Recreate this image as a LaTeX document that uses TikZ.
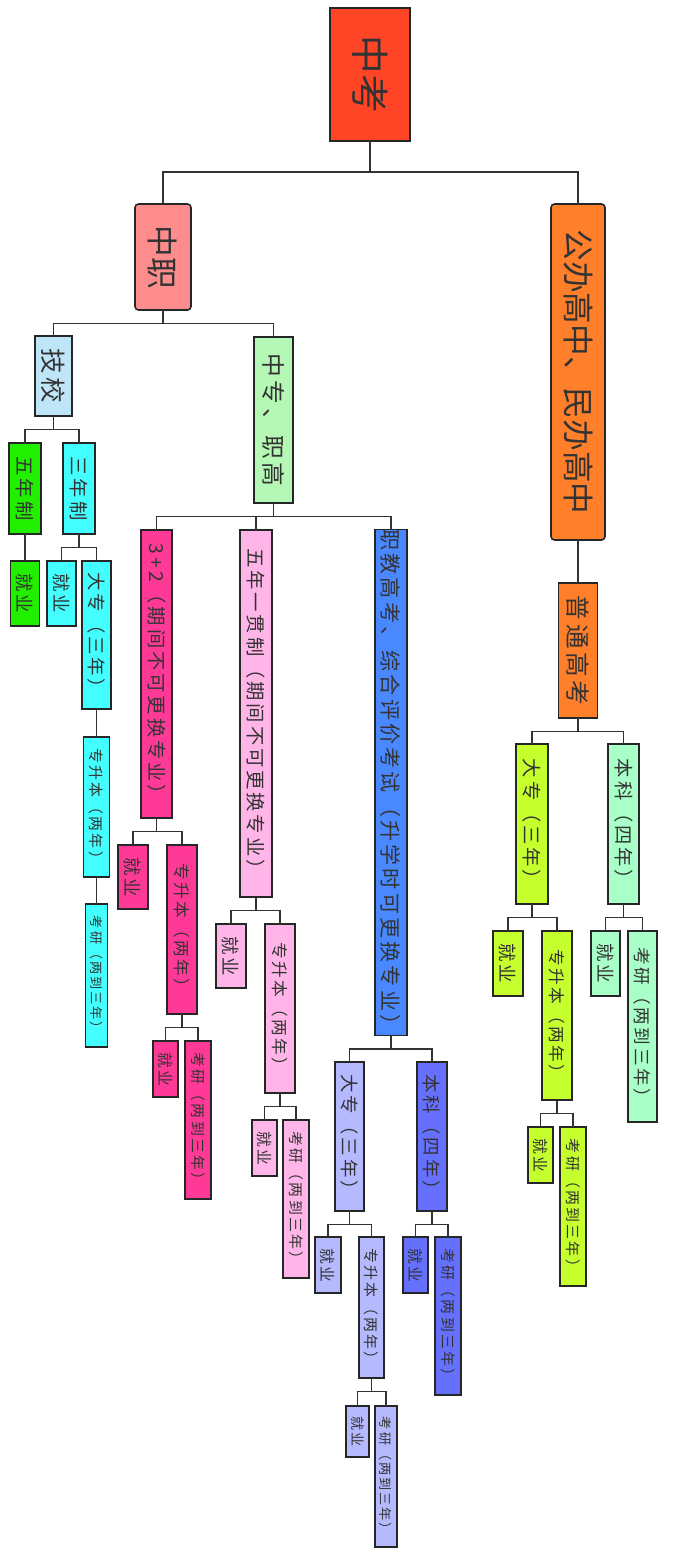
\documentclass[tikz,border=0pt]{standalone}
\usepackage{fontspec}
\usepackage{graphicx}
\newfontfamily\cjk[LetterSpace=15]{Noto Sans CJK SC}
\newfontfamily\cjktight{Noto Sans CJK SC}

\definecolor{rootred}{HTML}{FF4526}
\definecolor{salmon}{HTML}{FF8C8C}
\definecolor{orng}{HTML}{FF7F2A}
\definecolor{skyblue}{HTML}{BFE6F8}
\definecolor{palegreen}{HTML}{B5F7B5}
\definecolor{brightgreen}{HTML}{22EE00}
\definecolor{aqua}{HTML}{44FFFF}
\definecolor{hotpink}{HTML}{FF3A96}
\definecolor{softpink}{HTML}{FFB5E8}
\definecolor{royal}{HTML}{4A88FF}
\definecolor{lavender}{HTML}{B5BAFF}
\definecolor{violet}{HTML}{6670FF}
\definecolor{lime}{HTML}{C6FF2E}
\definecolor{mint}{HTML}{A8FFC8}

\begin{document}
\begin{tikzpicture}[
  x=0.02cm, y=-0.02cm,
  box/.style={draw=black!85, line width=0.9pt, inner sep=0pt, outer sep=0pt, text=black!80},
  sz/.style 2 args={minimum width={#1*0.02cm}, minimum height={#2*0.02cm}},
  fs/.style={font=\cjk\fontsize{#1}{#1}\selectfont},
  fst/.style={font=\cjktight\fontsize{#1}{#1}\selectfont},
  link/.style={draw=black!80, line width=0.85pt}
]
\useasboundingbox (0,0) rectangle (687,1556);

\node[box, sz={80}{133}, fst=22, fill=rootred] (zk) at (370,74.5) {\rotatebox{-90}{中考}};

\node[box, rounded corners=2pt, sz={56}{106}, fst=18, fill=salmon] (zz) at (163,257) {\rotatebox{-90}{中职}};
\node[box, rounded corners=2pt, sz={54}{336}, fst=18, fill=orng] (gb) at (578,372) {\rotatebox{-90}{公办高中、民办高中}};

\node[box, sz={37}{80}, fs=14.5, fill=skyblue] (jx) at (53.5,376) {\rotatebox{-90}{技校}};
\node[box, sz={39}{166}, fs=13.5, fill=palegreen] (zzh) at (273.5,420) {\rotatebox{-90}{中专、职高}};

\node[box, sz={32}{91}, fs=11, fill=brightgreen] (wnz) at (25,488.5) {\rotatebox{-90}{五年制}};
\node[box, sz={32}{91}, fs=11, fill=aqua] (snz) at (79,488.5) {\rotatebox{-90}{三年制}};
\node[box, sz={29}{65}, fs=10.5, fill=brightgreen] (jy1) at (25,593.5) {\rotatebox{-90}{就业}};
\node[box, sz={29}{65}, fs=10.5, fill=aqua] (jy2) at (61.5,593.5) {\rotatebox{-90}{就业}};
\node[box, sz={29}{148}, fs=10.5, fill=aqua] (dz1) at (96.5,635) {\rotatebox{-90}{大专（三年）}};
\node[box, sz={26}{140}, fs=8.5, fill=aqua] (zsb1) at (96.5,807) {\rotatebox{-90}{专升本（两年）}};
\node[box, sz={22}{143}, fs=7.5, fill=aqua] (ky1) at (96.5,975.5) {\rotatebox{-90}{考研（两到三年）}};

\node[box, sz={31}{288}, fs=11, fill=hotpink] (sj) at (156.5,674) {\rotatebox{-90}{3+2（期间不可更换专业）}};
\node[box, sz={32}{367}, fs=11, fill=softpink] (wy) at (256,713.5) {\rotatebox{-90}{五年一贯制（期间不可更换专业）}};
\node[box, sz={32}{505}, fs=12, fill=royal] (zj) at (391,782.5) {\rotatebox{-90}{职教高考、综合评价考试（升学时可更换专业）}};

\node[box, sz={30}{64}, fs=10.5, fill=hotpink] (jy3) at (133,877) {\rotatebox{-90}{就业}};
\node[box, sz={30}{169}, fs=9.5, fill=hotpink] (zsb2) at (182,929.5) {\rotatebox{-90}{专升本（两年）}};
\node[box, sz={25}{56}, fs=9, fill=hotpink] (jy4) at (165.5,1069) {\rotatebox{-90}{就业}};
\node[box, sz={26}{158}, fs=8.5, fill=hotpink] (ky2) at (198,1120) {\rotatebox{-90}{考研（两到三年）}};

\node[box, sz={30}{64}, fs=10.5, fill=softpink] (jy5) at (231,956) {\rotatebox{-90}{就业}};
\node[box, sz={30}{169}, fs=9.5, fill=softpink] (zsb3) at (280,1008.5) {\rotatebox{-90}{专升本（两年）}};
\node[box, sz={25}{56}, fs=9, fill=softpink] (jy6) at (264.5,1148) {\rotatebox{-90}{就业}};
\node[box, sz={26}{158}, fs=8.5, fill=softpink] (ky3) at (296,1199) {\rotatebox{-90}{考研（两到三年）}};

\node[box, sz={29}{149}, fs=10.5, fill=lavender] (dz2) at (349.5,1136.5) {\rotatebox{-90}{大专（三年）}};
\node[box, sz={30}{149}, fs=10.5, fill=violet] (bk1) at (432,1136.5) {\rotatebox{-90}{本科（四年）}};
\node[box, sz={26}{56}, fs=9, fill=lavender] (jy7) at (328,1265) {\rotatebox{-90}{就业}};
\node[box, sz={25}{141}, fs=8.5, fill=lavender] (zsb4) at (371.5,1307.5) {\rotatebox{-90}{专升本（两年）}};
\node[box, sz={23}{51}, fs=8, fill=lavender] (jy8) at (357.5,1431.5) {\rotatebox{-90}{就业}};
\node[box, sz={22}{141}, fs=7.5, fill=lavender] (ky4) at (386,1476.5) {\rotatebox{-90}{考研（两到三年）}};
\node[box, sz={25}{56}, fs=9, fill=violet] (jy9) at (415.5,1265) {\rotatebox{-90}{就业}};
\node[box, sz={26}{158}, fs=8.5, fill=violet] (ky5) at (448,1316) {\rotatebox{-90}{考研（两到三年）}};

\node[box, sz={39}{135}, fs=14, fill=orng] (pt) at (578,650.5) {\rotatebox{-90}{普通高考}};
\node[box, sz={32}{160}, fs=11, fill=lime] (dz3) at (532,824) {\rotatebox{-90}{大专（三年）}};
\node[box, sz={31}{160}, fs=11, fill=mint] (bk2) at (623.5,824) {\rotatebox{-90}{本科（四年）}};
\node[box, sz={30}{65}, fs=10.5, fill=lime] (jy10) at (508,963.5) {\rotatebox{-90}{就业}};
\node[box, sz={30}{169}, fs=9.5, fill=lime] (zsb5) at (557,1015.5) {\rotatebox{-90}{专升本（两年）}};
\node[box, sz={29}{65}, fs=10.5, fill=mint] (jy11) at (605.5,963.5) {\rotatebox{-90}{就业}};
\node[box, sz={29}{191}, fs=10, fill=mint] (ky6) at (642.5,1026.5) {\rotatebox{-90}{考研（两到三年）}};
\node[box, sz={25}{56}, fs=9, fill=lime] (jy12) at (540.5,1155) {\rotatebox{-90}{就业}};
\node[box, sz={26}{159}, fs=8.5, fill=lime] (ky7) at (573,1206.5) {\rotatebox{-90}{考研（两到三年）}};

\draw[link] (zk.south) -- ++(0,31) -| (zz.north);
\draw[link] (zk.south) -- ++(0,31) -| (gb.north);
\draw[link] (zz.south) -- ++(0,13.5) -| (jx.north);
\draw[link] (zz.south) -- ++(0,13.5) -| (zzh.north);
\draw[link] (jx.south) -- ++(0,13.5) -| (wnz.north);
\draw[link] (jx.south) -- ++(0,13.5) -| (snz.north);
\draw[link] (wnz.south) -- (jy1.north);
\draw[link] (snz.south) -- ++(0,13.5) -| (jy2.north);
\draw[link] (snz.south) -- ++(0,13.5) -| (dz1.north);
\draw[link] (dz1.south) -- (zsb1.north);
\draw[link] (zsb1.south) -- (ky1.north);
\draw[link] (zzh.south) -- ++(0,13.5) -| (sj.north);
\draw[link] (zzh.south) -- ++(0,13.5) -| (wy.north);
\draw[link] (zzh.south) -- ++(0,13.5) -| (zj.north);
\draw[link] (sj.south) -- ++(0,13.5) -| (jy3.north);
\draw[link] (sj.south) -- ++(0,13.5) -| (zsb2.north);
\draw[link] (zsb2.south) -- ++(0,13.5) -| (jy4.north);
\draw[link] (zsb2.south) -- ++(0,13.5) -| (ky2.north);
\draw[link] (wy.south) -- ++(0,13.5) -| (jy5.north);
\draw[link] (wy.south) -- ++(0,13.5) -| (zsb3.north);
\draw[link] (zsb3.south) -- ++(0,13.5) -| (jy6.north);
\draw[link] (zsb3.south) -- ++(0,13.5) -| (ky3.north);
\draw[link] (zj.south) -- ++(0,13.5) -| (dz2.north);
\draw[link] (zj.south) -- ++(0,13.5) -| (bk1.north);
\draw[link] (dz2.south) -- ++(0,13.5) -| (jy7.north);
\draw[link] (dz2.south) -- ++(0,13.5) -| (zsb4.north);
\draw[link] (zsb4.south) -- ++(0,13.5) -| (jy8.north);
\draw[link] (zsb4.south) -- ++(0,13.5) -| (ky4.north);
\draw[link] (bk1.south) -- ++(0,13.5) -| (jy9.north);
\draw[link] (bk1.south) -- ++(0,13.5) -| (ky5.north);
\draw[link] (gb.south) -- (pt.north);
\draw[link] (pt.south) -- ++(0,13.5) -| (dz3.north);
\draw[link] (pt.south) -- ++(0,13.5) -| (bk2.north);
\draw[link] (dz3.south) -- ++(0,13.5) -| (jy10.north);
\draw[link] (dz3.south) -- ++(0,13.5) -| (zsb5.north);
\draw[link] (zsb5.south) -- ++(0,13.5) -| (jy12.north);
\draw[link] (zsb5.south) -- ++(0,13.5) -| (ky7.north);
\draw[link] (bk2.south) -- ++(0,13.5) -| (jy11.north);
\draw[link] (bk2.south) -- ++(0,13.5) -| (ky6.north);

\end{tikzpicture}
\end{document}
